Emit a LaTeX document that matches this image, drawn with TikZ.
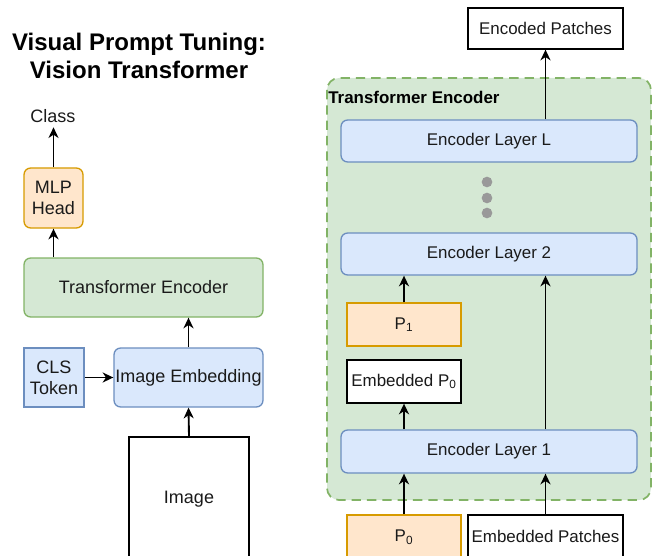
\documentclass[tikz,border=0pt]{standalone}
\usepackage{fontspec}
\setmainfont{Liberation Sans}
\usetikzlibrary{arrows.meta}
\definecolor{bluefill}{HTML}{DAE8FC}
\definecolor{bluedraw}{HTML}{6C8EBF}
\definecolor{greenfill}{HTML}{D5E8D4}
\definecolor{greendraw}{HTML}{82B366}
\definecolor{orangefill}{HTML}{FFE6CC}
\definecolor{orangedraw}{HTML}{D79B00}
\definecolor{dotgray}{HTML}{999999}
\definecolor{txt}{HTML}{1A1A1A}
\tikzset{
  box/.style={draw, line width=1pt, inner sep=0pt, align=center, text=txt},
  bluebox/.style={box, fill=bluefill, draw=bluedraw},
  greenbox/.style={box, fill=greenfill, draw=greendraw},
  orangebox/.style={box, fill=orangefill, draw=orangedraw},
  plainbox/.style={box, fill=white, draw=black},
  round/.style={rounded corners=5pt},
  lfont/.style={font=\fontsize{13.5pt}{16pt}\selectfont},
  rfont/.style={font=\fontsize{12.7pt}{15pt}\selectfont},
  arr/.style={draw, line width=1.4pt, -{Stealth[length=8pt, width=7.5pt, inset=2.5pt]}},
}
\begin{document}
\begin{tikzpicture}[x=0.75pt, y=-0.75pt]
\path[use as bounding box, clip] (0,0) rectangle (667,556);

% ---------- title ----------
\node[align=center, font=\bfseries\fontsize{18pt}{21pt}\selectfont] (title) at (139,56)
  {Visual Prompt Tuning:\\Vision Transformer};

% ---------- ViT pipeline ----------
\node[lfont, text=txt] (cls) at (53,116) {Class};
\node[orangebox, round, lfont, minimum width=44.25pt, minimum height=45pt] (mlp) at (53.5,198) {MLP\\Head};
\node[greenbox, round, lfont, minimum width=179.25pt, minimum height=44.25pt] (te) at (143.5,287.5) {Transformer Encoder};
\node[bluebox, lfont, minimum width=45pt, minimum height=44.25pt] (tok) at (54,377.5) {CLS\\Token};
\node[bluebox, round, lfont, minimum width=111.75pt, minimum height=44.25pt] (emb) at (188.5,377.5) {Image Embedding};
\node[plainbox, lfont, minimum width=90pt, minimum height=93pt] (img) at (189,499) {Image};

\path[arr] (mlp.north) -- (mlp.north |- cls.south);
\path[arr] (mlp.south |- te.north) -- (mlp.south);
\path[arr] (tok.east) -- (emb.west);
\path[arr] (emb.north) -- (emb.north |- te.south);
\path[arr] (img.north) -- (emb.south);

% ---------- encoder with prompts ----------
\node[plainbox, rfont, minimum width=116.25pt, minimum height=30.75pt] (out) at (545.5,28.5) {Encoded Patches};

\draw[fill=greenfill, draw=greendraw, line width=1.3pt, dash pattern=on 7pt off 4.5pt, rounded corners=9pt]
  (327,78) rectangle (651,500);
\node[anchor=west, inner sep=0pt, text=black, font=\bfseries\fontsize{12.7pt}{15pt}\selectfont] (enclabel) at (328,97) {Transformer Encoder};

\node[bluebox, round, rfont, minimum width=222pt, minimum height=31.5pt] (layL) at (489,141) {Encoder Layer L};
\foreach \yy/\nm in {182/d1, 198/d2, 213/d3}
  \fill[dotgray] (487,\yy) circle[radius=4pt] coordinate (\nm);
\node[bluebox, round, rfont, minimum width=222pt, minimum height=31.5pt] (lay2) at (489,254) {Encoder Layer 2};
\node[orangebox, rfont, minimum width=85.5pt, minimum height=32.25pt] (p1) at (404,324.5) {P\textsubscript{1}};
\node[plainbox, rfont, minimum width=85.5pt, minimum height=32.25pt] (ep0) at (404,381.5) {Embedded P\textsubscript{0}};
\node[bluebox, round, rfont, minimum width=222pt, minimum height=32.25pt] (lay1) at (489,451.5) {Encoder Layer 1};
\node[orangebox, rfont, minimum width=85.5pt, minimum height=33pt] (p0) at (404,537) {P\textsubscript{0}};
\node[plainbox, rfont, minimum width=116.25pt, minimum height=31.5pt] (patches) at (545.5,536) {Embedded Patches};

\path[arr] (p0.north) -- (p0.north |- lay1.south);
\path[arr] (patches.north) -- (patches.north |- lay1.south);
\path[arr] (ep0.south |- lay1.north) -- (ep0.south);
\path[arr] (p1.north) -- (p1.north |- lay2.south);
\path[arr] (patches.north |- lay1.north) -- (patches.north |- lay2.south);
\path[arr] (out.south |- layL.north) -- (out.south);
\end{tikzpicture}
\end{document}
